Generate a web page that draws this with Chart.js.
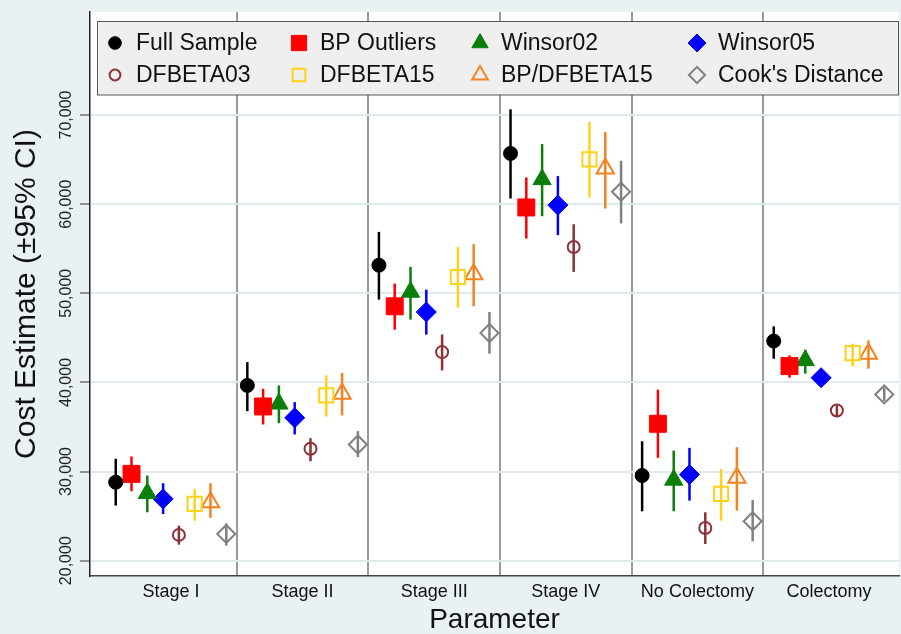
<!DOCTYPE html>
<html>
<head>
<meta charset="utf-8">
<script src="https://cdn.jsdelivr.net/npm/chart.js@4.4.0/dist/chart.umd.min.js"></script>
<style>
body{margin:0;background:#e9f1f3;}
#contenedor{width:901px;height:634px;}
</style>
</head>
<body>
<div id="contenedor"><canvas id="grafico"></canvas></div>
<script>
// categorias y ticks del eje Y
var categorias = ["Stage I", "Stage II", "Stage III", "Stage IV", "No Colectomy", "Colectomy"];
var ticksY = [20000, 30000, 40000, 50000, 60000, 70000];

// estimaciones e intervalos 95% por serie
var fullSample   = [28800, 39660, 53150, 65690, 29550, 44640];
var fullSampleLo = [26180, 36780, 49290, 60640, 25540, 42660];
var fullSampleHi = [31430, 42280, 56890, 70640, 33400, 46290];

var bpOutliers   = [29740, 37300, 48540, 59630, 35360, 41830];
var bpOutliersLo = [27790, 35280, 45920, 56140, 31540, 40530];
var bpOutliersHi = [31690, 39290, 51090, 63000, 39180, 43030];

var winsor02   = [27560, 37600, 50150, 62780, 29060, 42470];
var winsor02Lo = [25430, 35430, 47040, 58650, 25540, 40980];
var winsor02Hi = [29550, 39660, 52960, 66740, 32360, 43670];

var winsor05   = [26930, 36030, 47900, 59890, 29660, 40530];
var winsor05Lo = [25240, 34160, 45360, 56520, 26740, 39900];
var winsor05Hi = [28690, 37790, 50410, 63150, 32660, 41200];

var dfbeta03   = [22890, 32550, 43400, 55200, 23670, 36850];
var dfbeta03Lo = [21800, 31160, 41350, 52400, 21870, 36200];
var dfbeta03Hi = [23930, 33740, 45390, 57750, 25430, 37500];

var dfbeta15   = [26370, 38540, 51830, 65020, 27490, 43290];
var dfbeta15Lo = [24490, 36180, 48390, 60750, 24490, 41800];
var dfbeta15Hi = [28060, 40790, 55200, 69250, 30300, 44350];

var bpDfbeta15   = [26550, 38730, 52130, 64010, 29290, 43220];
var bpDfbeta15Lo = [24800, 36290, 48540, 59510, 25620, 41540];
var bpDfbeta15Hi = [28690, 41050, 55510, 68120, 32730, 44720];

var cooks   = [23000, 33030, 45540, 61390, 24420, 38650];
var cooksLo = [21690, 31610, 43220, 57830, 22170, 37900];
var cooksHi = [24190, 34530, 47900, 64870, 26820, 39400];

var FUENTE = "'Liberation Sans', Arial, sans-serif";
var SEPARACION = 0.12; // desplazamiento entre series dentro de cada categoria

function serie(nombre, k, est, lo, hi, color, estilo, radio, relleno){
	return {
		label: nombre,
		data: est.map(function(v, i){ return {x: i + (k - 3.5) * SEPARACION, y: v}; }),
		lo: lo,
		hi: hi,
		borderColor: color,
		backgroundColor: relleno ? color : 'rgba(0,0,0,0)',
		pointStyle: estilo,
		pointRadius: radio,
		pointHoverRadius: radio,
		pointBorderWidth: relleno ? 1 : 2,
		borderWidth: relleno ? 1 : 2,
		showLine: false
	};
}

var datasets = [
	serie("Full Sample", 0, fullSample, fullSampleLo, fullSampleHi, "#000000", "circle", 7, true),
	serie("BP Outliers", 1, bpOutliers, bpOutliersLo, bpOutliersHi, "#ff0000", "rect", 12, true),
	serie("Winsor02", 2, winsor02, winsor02Lo, winsor02Hi, "#0a7f0a", "triangle", 10.5, true),
	serie("Winsor05", 3, winsor05, winsor05Lo, winsor05Hi, "#0000ff", "rectRot", 10, true),
	serie("DFBETA03", 4, dfbeta03, dfbeta03Lo, dfbeta03Hi, "#8c3236", "circle", 6, false),
	serie("DFBETA15", 5, dfbeta15, dfbeta15Lo, dfbeta15Hi, "#ffd21a", "rect", 10, false),
	serie("BP/DFBETA15", 6, bpDfbeta15, bpDfbeta15Lo, bpDfbeta15Hi, "#f58220", "triangle", 10, false),
	serie("Cook's Distance", 7, cooks, cooksLo, cooksHi, "#808080", "rectRot", 9, false)
];

// fondo blanco del area del grafico
var fondoArea = {
	id: 'fondoArea',
	beforeDraw: function(chart){
		var a = chart.chartArea, ctx = chart.ctx;
		ctx.save();
		ctx.fillStyle = '#ffffff';
		ctx.fillRect(a.left, a.top, a.right - a.left, a.bottom - a.top);
		ctx.restore();
	}
};

// barras de error (IC 95%)
var barrasError = {
	id: 'barrasError',
	afterDatasetsDraw: function(chart){
		var ctx = chart.ctx, xs = chart.scales.x, ys = chart.scales.y;
		chart.data.datasets.forEach(function(ds){
			ctx.save();
			ctx.strokeStyle = ds.borderColor;
			ctx.lineWidth = 2.5;
			ds.data.forEach(function(p, i){
				var px = xs.getPixelForValue(p.x);
				ctx.beginPath();
				ctx.moveTo(px, ys.getPixelForValue(ds.lo[i]));
				ctx.lineTo(px, ys.getPixelForValue(ds.hi[i]));
				ctx.stroke();
			});
			ctx.restore();
		});
	}
};

// leyenda en dos filas dentro del grafico
var leyenda = {
	id: 'leyenda',
	afterDraw: function(chart){
		var ctx = chart.ctx;
		var colX = [115, 299, 480, 697];
		var filaY = [43, 75];
		ctx.save();
		ctx.fillStyle = '#efefef';
		ctx.strokeStyle = '#555555';
		ctx.lineWidth = 1;
		ctx.fillRect(97.5, 21.5, 801, 73.5);
		ctx.strokeRect(97.5, 21.5, 801, 73.5);
		chart.data.datasets.forEach(function(ds, k){
			var x = colX[k % 4], y = filaY[Math.floor(k / 4)];
			ctx.fillStyle = ds.backgroundColor;
			ctx.strokeStyle = ds.borderColor;
			ctx.lineWidth = ds.borderWidth;
			Chart.helpers.drawPoint(ctx, {pointStyle: ds.pointStyle, radius: ds.pointRadius * 0.9, borderWidth: ds.borderWidth, rotation: 0}, x, y);
			ctx.fillStyle = '#111111';
			ctx.font = "23px " + FUENTE;
			ctx.textAlign = 'left';
			ctx.textBaseline = 'middle';
			ctx.fillText(ds.label, x + 21, y + 1);
		});
		ctx.restore();
	}
};

new Chart(document.getElementById("grafico"), {
	type: 'scatter',
	data: { datasets: datasets },
	plugins: [fondoArea, barrasError, leyenda],
	options: {
		responsive: true,
		maintainAspectRatio: false,
		animation: false,
		layout: { autoPadding: false, padding: { top: 12, right: 2, left: 0, bottom: 0 } },
		plugins: {
			legend: { display: false },
			tooltip: { enabled: false }
		},
		scales: {
			x: {
				type: 'linear',
				min: -0.6155,
				max: 5.532,
				afterBuildTicks: function(scale){
					var t = [];
					for (var i = 0; i < categorias.length; i++){
						t.push({value: i});
						if (i < categorias.length - 1) t.push({value: i + 0.5});
					}
					scale.ticks = t;
				},
				afterFit: function(scale){
					scale.height = 58;
					scale.paddingLeft = 0;
					scale.paddingRight = 0;
				},
				grid: {
					drawTicks: false,
					color: function(c){ return Number.isInteger(c.tick.value) ? 'rgba(0,0,0,0)' : '#9a9a9a'; },
					lineWidth: 2
				},
				border: { display: true, color: '#444444', width: 1.5 },
				ticks: {
					autoSkip: false,
					maxRotation: 0,
					minRotation: 0,
					padding: 5,
					color: '#111111',
					font: { family: FUENTE, size: 18 },
					callback: function(v){ return Number.isInteger(v) ? categorias[v] : ''; }
				},
				title: {
					display: true,
					text: 'Parameter',
					color: '#111111',
					font: { family: FUENTE, size: 28, lineHeight: 1 },
					padding: { top: 0, bottom: 0 }
				}
			},
			y: {
				min: 18280,
				max: 81560,
				afterBuildTicks: function(scale){
					scale.ticks = ticksY.map(function(v){ return {value: v}; });
				},
				afterFit: function(scale){
					scale.width = 90;
					scale.paddingTop = 0;
					scale.paddingBottom = 0;
				},
				grid: {
					color: '#dfeaed',
					lineWidth: 2,
					drawTicks: true,
					tickLength: 10,
					tickColor: '#333333',
					tickWidth: 1
				},
				border: { display: true, color: '#222222', width: 1.5 },
				ticks: {
					minRotation: 90,
					maxRotation: 90,
					crossAlign: 'center',
					padding: -11,
					color: '#222222',
					font: { family: FUENTE, size: 16 },
					callback: function(v){ return v.toLocaleString('en-US'); }
				},
				title: {
					display: true,
					text: 'Cost Estimate (\u00B195% CI)',
					color: '#111111',
					font: { family: FUENTE, size: 30, lineHeight: 1.2 },
					padding: { top: 9, bottom: 0 }
				}
			}
		}
	}
});
</script>
</body>
</html>
